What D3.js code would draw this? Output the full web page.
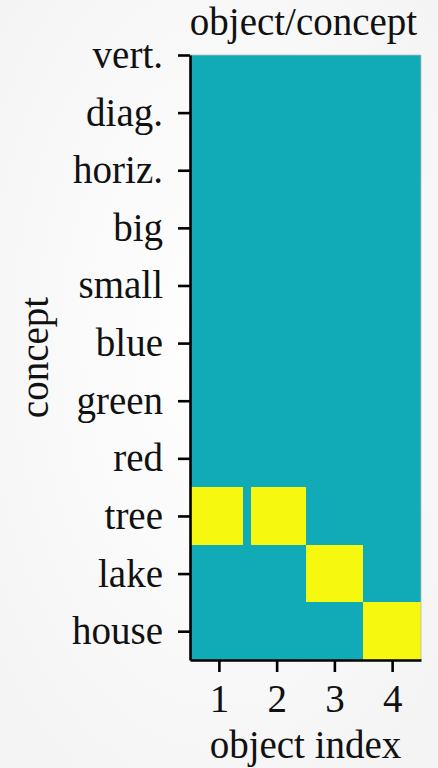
<!DOCTYPE html>
<html>
<head>
<meta charset="utf-8">
<script src="https://cdn.jsdelivr.net/npm/d3@7"></script>
<style>
html,body{margin:0;padding:0;background:#fafafa;}
svg{display:block;}
text{font-family:"Liberation Serif","DejaVu Serif",serif;fill:#111;}
</style>
</head>
<body>
<svg id="chart" width="438" height="768"></svg>
<script>
const concepts = ["vert.","diag.","horiz.","big","small","blue","green","red","tree","lake","house"];
const objects = [1,2,3,4];
const values = [
  [0,0,0,0],
  [0,0,0,0],
  [0,0,0,0],
  [0,0,0,0],
  [0,0,0,0],
  [0,0,0,0],
  [0,0,0,0],
  [0,0,0,0],
  [1,1,0,0],
  [0,0,1,0],
  [0,0,0,1]
];
const title = "object/concept";
const xTitle = "object index";
const yTitle = "concept";

(function(){
const svg = d3.select("#chart");
const defs = svg.append("defs");
const grad = defs.append("radialGradient").attr("id","bg").attr("cx","50%").attr("cy","45%").attr("r","75%");
grad.append("stop").attr("offset","0%").attr("stop-color","#ffffff");
grad.append("stop").attr("offset","100%").attr("stop-color","#f3f3f3");
svg.append("rect").attr("width",438).attr("height",768).attr("fill","url(#bg)");

const mLeft = 190, mRight = 421, mTop = 55, mBottom = 660;
const x = d3.scaleLinear().domain([0.5, objects.length + 0.5]).range([mLeft, mRight]);
const y = d3.scaleLinear().domain([0, concepts.length - 0.5]).range([mTop, mBottom]);
const color = d3.scaleLinear().domain([0,1]).range(["#11abb7","#f6f90f"]);

defs.append("clipPath").attr("id","plotclip")
  .append("rect").attr("x",mLeft).attr("y",mTop).attr("width",mRight-mLeft).attr("height",mBottom-mTop);

const cells = [];
values.forEach((row,i)=>row.forEach((v,j)=>cells.push({i,j,v,
  padL: (v===1 && j>0 && row[j-1]===1) ? 3 : 0,
  padR: (v===1 && j<row.length-1 && row[j+1]===1) ? 5 : 0})));

const g = svg.append("g").attr("clip-path","url(#plotclip)");
// base layer (value 0 colour) under all cells
g.append("rect").attr("x",mLeft).attr("y",mTop).attr("width",mRight-mLeft).attr("height",mBottom-mTop).attr("fill",color(0));
g.selectAll("rect.cell").data(cells).join("rect")
  .attr("class","cell")
  .attr("shape-rendering","crispEdges")
  .attr("x", d => x(objects[d.j] - 0.5) + d.padL)
  .attr("y", d => y(d.i - 0.5))
  .attr("width", d => x(objects[d.j] + 0.5) - x(objects[d.j] - 0.5) + 0.6 - d.padL - d.padR)
  .attr("height", d => y(d.i + 0.5) - y(d.i - 0.5) + 0.6)
  .attr("fill", d => color(d.v));

svg.append("path")
  .attr("d", `M${mLeft},${mTop}H${mRight}V${mBottom}`)
  .attr("fill","none").attr("stroke","#bbbbbb").attr("stroke-width",0.8);

const fs = 39;
const yAxis = d3.axisLeft(y).tickValues(d3.range(concepts.length)).tickFormat(i => concepts[i]).tickSize(12).tickSizeOuter(0).tickPadding(15);
const ya = svg.append("g").attr("transform",`translate(${mLeft},0)`).call(yAxis);
ya.select(".domain").attr("stroke","#000").attr("stroke-width",2.6);
ya.selectAll(".tick line").attr("stroke","#000").attr("stroke-width",2.6);
ya.selectAll(".tick text").attr("font-family","Liberation Serif").attr("font-size",fs).attr("fill","#111").attr("dy","0.32em");

const xAxis = d3.axisBottom(x).tickValues(objects).tickFormat(d3.format("d")).tickSize(12).tickSizeOuter(0);
const xa = svg.append("g").attr("transform",`translate(0,${mBottom})`).call(xAxis);
xa.select(".domain").attr("stroke","#000").attr("stroke-width",2.6);
xa.selectAll(".tick line").attr("stroke","#000").attr("stroke-width",2.6);
xa.selectAll(".tick text").attr("font-family","Liberation Serif").attr("font-size",fs).attr("fill","#111").attr("y",52).attr("dy","0");

svg.append("text").attr("x",(mLeft+mRight)/2 - 2).attr("y",35).attr("text-anchor","middle").attr("font-size",fs).text(title);
svg.append("text").attr("x",(mLeft+mRight)/2).attr("y",758).attr("text-anchor","middle").attr("font-size",fs).text(xTitle);
svg.append("text").attr("transform",`translate(48,${(mTop+mBottom)/2}) rotate(-90)`).attr("text-anchor","middle").attr("font-size",fs).text(yTitle);
})();
</script>
</body>
</html>
